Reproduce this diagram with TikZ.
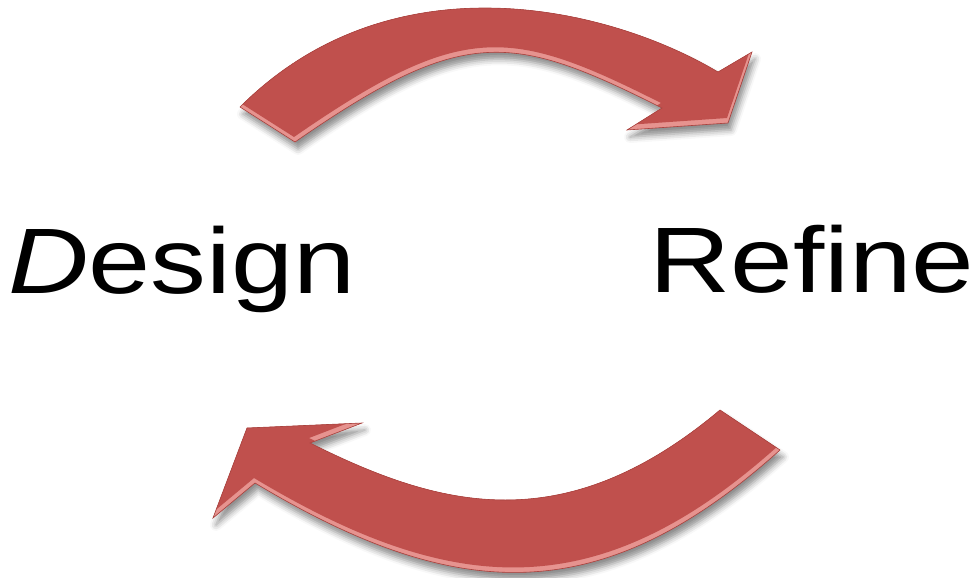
\documentclass[tikz,border=0pt]{standalone}
\usepackage{fontspec}
\setmainfont{Liberation Sans}
\usetikzlibrary{shadows.blur}
\definecolor{basered}{HTML}{C0504D}
\definecolor{lightred}{HTML}{E6938F}
\definecolor{edgered}{HTML}{A8433F}
\tikzset{
  arrowbody/.style={fill=basered, blur shadow={shadow xshift=3pt, shadow yshift=-7pt, shadow blur radius=6pt, shadow opacity=45}},
  label/.style={inner sep=0pt, anchor=base west, font=\fontsize{93}{100}\selectfont}
}
\def\toparrow{(240,107) .. controls (392,-45) and (609,7) .. (718,72) -- (752,52) -- (728,123) -- (627,130) -- (662,108) .. controls (511,32) and (464,25) .. (295,142) -- cycle}
\def\botarrow{(720,410) .. controls (564,541) and (440,508) .. (310,443) -- (362,423) -- (247,428) -- (213,518) -- (255,483) .. controls (455,603) and (600,612) .. (780,450) -- cycle}
\begin{document}
\begin{tikzpicture}[x=1pt,y=-1pt]
\useasboundingbox (0,0) rectangle (975,578);
% top arrow
\fill[arrowbody] \toparrow;
\begin{scope}
  \clip \toparrow;
  \fill[lightred] \toparrow;
  \fill[basered, shift={(-1,-5)}] \toparrow;
\end{scope}
\draw[edgered, line width=0.6pt] \toparrow;
% bottom arrow
\fill[arrowbody] \botarrow;
\begin{scope}
  \clip \botarrow;
  \fill[lightred] \botarrow;
  \fill[basered, shift={(-1,-5)}] \botarrow;
\end{scope}
\draw[edgered, line width=0.6pt] \botarrow;
% labels
\node[label] (design) at (8,293) {\scalebox{1.2}[1]{{\itshape D}esign}};
\node[label] (refine) at (649,292) {\scalebox{1.21}[1]{Refine}};
\end{tikzpicture}
\end{document}
